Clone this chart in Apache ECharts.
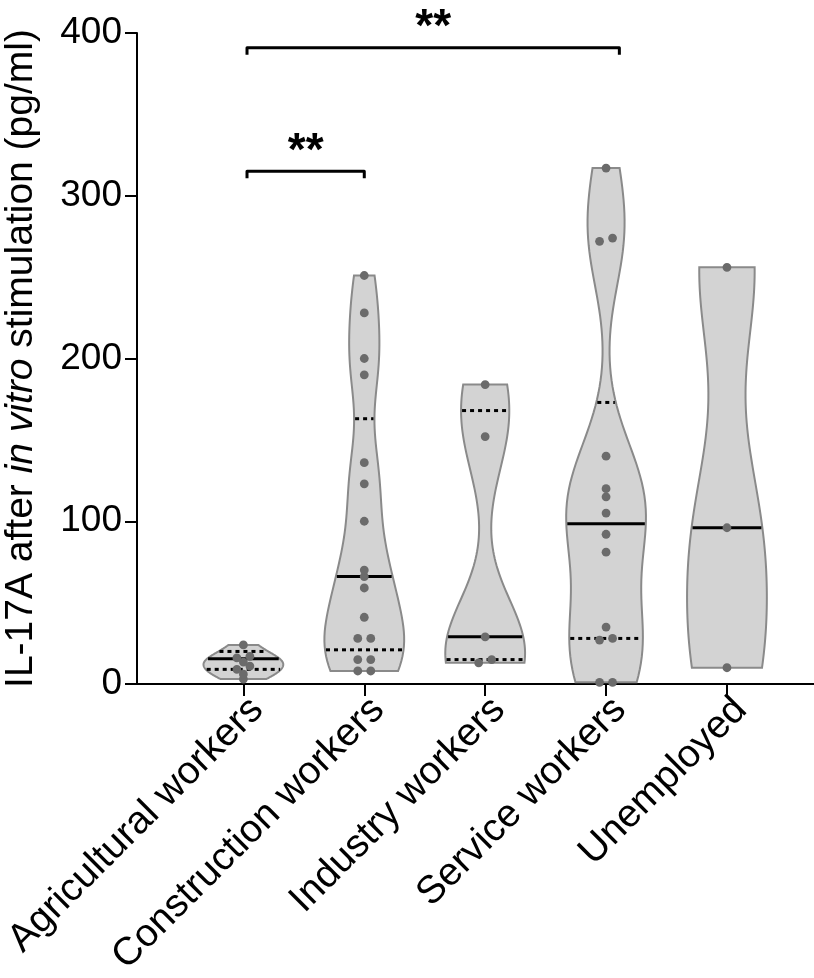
<!DOCTYPE html>
<html>
<head>
<meta charset="utf-8">
<script src="https://cdn.jsdelivr.net/npm/echarts@6/dist/echarts.min.js"></script>
<style>
  html, body { margin: 0; padding: 0; background: #fff; }
  #chart { width: 814px; height: 978px; }
</style>
</head>
<body>
<div id="chart"></div>
<script>
// groups
const categories = ['Agricultural workers', 'Construction workers', 'Industry workers', 'Service workers', 'Unemployed'];
const agricultural = [3, 6, 9, 11, 13.5, 16, 17, 24];
const construction = [8, 8, 15, 15, 28, 28, 41, 59, 66, 70, 100, 123, 136, 190, 200, 228, 251];
const industry = [13, 15, 29, 152, 184];
const service = [1, 1, 27, 28, 35, 81, 92, 105, 115, 120, 140, 272, 274, 317];
const unemployed = [10, 96, 256];
const medians = [15.5, 66, 29, 98.5, 96];
const lowerQuartiles = [9, 21, 15, 28, null];
const upperQuartiles = [20, 163, 168, 173, null];
const yTicks = [0, 100, 200, 300, 400];
const comparisons = [
    { from: 0.03, to: 1, y: 315, label: '**' },
    { from: 0.03, to: 3.11, y: 391, label: '**' }
];

const groups = [agricultural, construction, industry, service, unemployed];
const FONT = '"Liberation Sans", Arial, Helvetica, sans-serif';
const HALF = 0.33;      // max half width of a violin, in category units
const PAIR = 6.5;       // px offset for side by side dots

function bandwidth(vals) {
    const n = vals.length;
    const mean = vals.reduce((a, b) => a + b, 0) / n;
    const sd = Math.sqrt(vals.reduce((a, b) => a + (b - mean) * (b - mean), 0) / (n - 1));
    return Math.max(0.54 * sd * Math.pow(n, -0.2), 5);
}
function density(vals, h, y) {
    let s = 0;
    for (const v of vals) {
        const z = (y - v) / h;
        s += Math.exp(-0.5 * z * z);
    }
    return s;
}
// half width (category units) as a function of y
function profile(vals) {
    const h = bandwidth(vals);
    const lo = Math.min(...vals), hi = Math.max(...vals);
    let fmax = 0;
    for (let k = 0; k <= 100; k++) {
        fmax = Math.max(fmax, density(vals, h, lo + (hi - lo) * k / 100));
    }
    return { lo, hi, w: y => HALF * density(vals, h, y) / fmax };
}

function renderViolin(params, api) {
    const i = params.dataIndex;
    const p = profile(groups[i]);
    const right = [], left = [];
    const steps = 80;
    for (let k = 0; k <= steps; k++) {
        const y = p.lo + (p.hi - p.lo) * k / steps;
        const w = p.w(y);
        right.push(api.coord([i + w, y]));
        left.unshift(api.coord([i - w, y]));
    }
    const children = [{
        type: 'polygon',
        shape: { points: right.concat(left) },
        style: { fill: '#d3d3d3', stroke: '#8a8a8a', lineWidth: 2 }
    }];
    const addLine = (v, dashed) => {
        if (v == null) return;
        const w = p.w(v);
        const a = api.coord([i - w, v]), b = api.coord([i + w, v]);
        children.push({
            type: 'line',
            shape: { x1: a[0] + 1, y1: a[1], x2: b[0] - 1, y2: b[1] },
            style: { stroke: '#000', lineWidth: 3, lineDash: dashed ? [4, 4] : null }
        });
    };
    addLine(lowerQuartiles[i], true);
    addLine(upperQuartiles[i], true);
    addLine(medians[i], false);
    return { type: 'group', children };
}

function renderDots(params, api) {
    const i = params.dataIndex;
    const vals = groups[i].slice().sort((a, b) => a - b);
    // dots that sit too close in y are spread side by side
    const rows = [];
    for (const v of vals) {
        const py = api.coord([i, v])[1];
        const last = rows[rows.length - 1];
        if (last && Math.abs(last.y0 - py) < 3.5) last.items.push(py);
        else rows.push({ y0: py, items: [py] });
    }
    const cx = api.coord([i, 0])[0];
    const children = [];
    for (const r of rows) {
        const n = r.items.length;
        r.items.forEach((py, k) => {
            children.push({
                type: 'circle',
                shape: { cx: cx + (k - (n - 1) / 2) * 2 * PAIR, cy: py, r: 4.4 },
                style: { fill: '#6b6b6b' }
            });
        });
    }
    return { type: 'group', children };
}

function renderBracket(params, api) {
    const c = comparisons[params.dataIndex];
    const a = api.coord([c.from, c.y]);
    const b = api.coord([c.to, c.y]);
    const drop = 7;
    return {
        type: 'group',
        children: [{
            type: 'polyline',
            shape: { points: [[a[0], a[1] + drop], a, b, [b[0], b[1] + drop]] },
            style: { stroke: '#000', lineWidth: 3, fill: null, lineJoin: 'round' }
        }, {
            type: 'text',
            x: (a[0] + b[0]) / 2,
            y: a[1] + 4,
            style: {
                text: c.label, fill: '#000', font: 'bold 46px ' + FONT,
                align: 'center', verticalAlign: 'bottom'
            }
        }]
    };
}

const chart = echarts.init(document.getElementById('chart'), null, { renderer: 'canvas' });
chart.setOption({
    animation: false,
    backgroundColor: '#fff',
    grid: { left: 137, right: 0, top: 33, bottom: 294, outerBoundsMode: 'none' },
    xAxis: {
        type: 'value',
        min: -0.88,
        max: 4.72,
        splitLine: { show: false },
        axisLine: { show: true, onZero: false, lineStyle: { color: '#000', width: 2 } },
        axisTick: { show: true, customValues: [0, 1, 2, 3, 4], length: 12, lineStyle: { color: '#000', width: 2 } },
        axisLabel: {
            customValues: [0, 1, 2, 3, 4],
            formatter: v => categories[Math.round(v)],
            rotate: 45, margin: 6, verticalAlign: 'top',
            color: '#000', fontSize: 39, fontFamily: FONT
        }
    },
    yAxis: {
        type: 'value',
        min: 0, max: 400, interval: 100,
        splitLine: { show: false },
        axisLine: { show: true, onZero: false, lineStyle: { color: '#000', width: 2 } },
        axisTick: { show: true, length: 12, lineStyle: { color: '#000', width: 2 } },
        axisLabel: {
            color: '#000', fontSize: 37, fontFamily: FONT, margin: 15,
            formatter: v => yTicks.includes(v) ? String(v) : ''
        },
        name: '{n|IL-17A after }{i|in vitro}{n| stimulation (pg/ml)}',
        nameLocation: 'middle',
        nameGap: 96,
        nameTextStyle: {
            rich: {
                n: { fontSize: 39, fontFamily: FONT, color: '#000' },
                i: { fontSize: 39, fontFamily: FONT, color: '#000', fontStyle: 'italic' }
            }
        }
    },
    series: [{
        type: 'custom',
        renderItem: renderViolin,
        data: categories.map((c, i) => [i, medians[i]]),
        z: 2
    }, {
        type: 'custom',
        renderItem: renderDots,
        data: categories.map((c, i) => [i, medians[i]]),
        z: 3
    }, {
        type: 'custom',
        renderItem: renderBracket,
        clip: false,
        data: comparisons.map(c => [c.from, c.y]),
        z: 4
    }]
});
</script>
</body>
</html>
